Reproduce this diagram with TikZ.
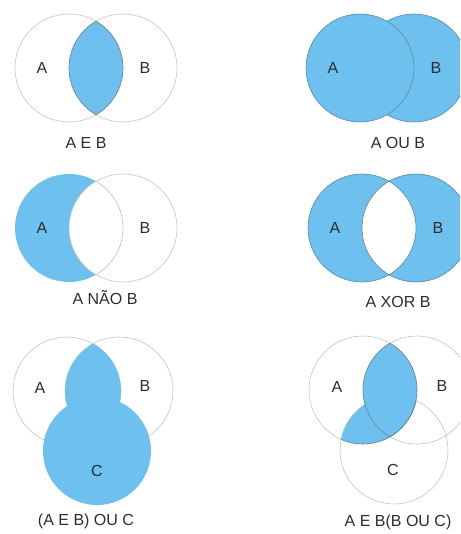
\documentclass[tikz,border=0pt]{standalone}
\usepackage{fontspec}
\setmainfont{Liberation Sans}
\usepackage{xcolor}
\usepackage{tikz}
\definecolor{setblue}{RGB}{110,192,238}
\definecolor{rimgray}{RGB}{195,195,195}
\definecolor{bluerim}{RGB}{95,135,165}
\definecolor{txtgray}{RGB}{45,45,45}

\begin{document}
\begin{tikzpicture}[
    x=1pt, y=-1pt,
    setfill/.style={fill=setblue},
    rim/.style={draw=rimgray, line width=0.6pt},
    darkrim/.style={draw=bluerim, line width=0.6pt},
    lbl/.style={text=txtgray, font=\fontsize{16}{18}\selectfont, inner sep=0pt},
    setcaption/.style={lbl}
]
  \useasboundingbox (0,0) rectangle (460,534);
  \clip (0,0) rectangle (460,534);

  % Define the circle centres
  \coordinate (a1) at (69,68);   \coordinate (b1) at (123,68);
  \coordinate (a2) at (360,68);  \coordinate (b2) at (414,68);
  \coordinate (a3) at (69,228);  \coordinate (b3) at (123,228);
  \coordinate (a4) at (362,228); \coordinate (b4) at (416,228);
  \coordinate (a5) at (67,391);  \coordinate (b5) at (119,391); \coordinate (c5) at (97,451);
  \coordinate (a6) at (363,390); \coordinate (b6) at (417,390); \coordinate (c6) at (394,450);

  % A E B
  \begin{scope}
    \clip (a1) circle[radius=54pt];
    \fill[setfill] (b1) circle[radius=54pt];
  \end{scope}
  \draw[rim] (a1) circle[radius=54pt] (b1) circle[radius=54pt];
  \begin{scope}
    \clip (a1) circle[radius=54pt];
    \draw[darkrim] (b1) circle[radius=54pt];
  \end{scope}
  \begin{scope}
    \clip (b1) circle[radius=54pt];
    \draw[darkrim] (a1) circle[radius=54pt];
  \end{scope}

  % A OU B
  \fill[setfill, darkrim] (b2) circle[radius=54pt];
  \fill[setfill, darkrim] (a2) circle[radius=54pt];

  % A NAO B
  \fill[setfill] (a3) circle[radius=54pt];
  \begin{scope}
    \clip (a3) circle[radius=54pt];
    \fill[white] (b3) circle[radius=54pt];
  \end{scope}
  \draw[rim] (b3) circle[radius=54pt];
  \begin{scope}
    \clip (b3) circle[radius=54pt];
    \draw[rim] (a3) circle[radius=54pt];
  \end{scope}

  % A XOR B
  \fill[setfill] (a4) circle[radius=54pt] (b4) circle[radius=54pt];
  \begin{scope}
    \clip (a4) circle[radius=54pt];
    \fill[white] (b4) circle[radius=54pt];
  \end{scope}
  \draw[darkrim] (a4) circle[radius=54pt] (b4) circle[radius=54pt];

  % (A E B) OU C
  \draw[rim] (a5) circle[radius=54pt] (b5) circle[radius=54pt];
  \begin{scope}
    \clip (a5) circle[radius=54pt];
    \fill[setfill] (b5) circle[radius=54pt];
  \end{scope}
  \fill[setfill] (c5) circle[radius=54pt];

  % A E (B OU C)
  \draw[rim] (a6) circle[radius=54pt] (b6) circle[radius=54pt] (c6) circle[radius=54pt];
  \begin{scope}
    \clip (a6) circle[radius=54pt];
    \fill[setfill] (b6) circle[radius=54pt] (c6) circle[radius=54pt];
    \draw[darkrim] (b6) circle[radius=54pt];
  \end{scope}
  \foreach \k in {b6,c6} {
    \begin{scope}
      \clip (\k) circle[radius=54pt];
      \draw[darkrim] (a6) circle[radius=54pt];
    \end{scope}
  }

  % set letters
  \foreach \n/\p/\t in {la1/{42,68}/A, lb1/{145,68}/B, la2/{333,68}/A, lb2/{436,68}/B,
                        la3/{42,228}/A, lb3/{145,228}/B, la4/{335,228}/A, lb4/{438,228}/B,
                        la5/{40,388}/A, lb5/{145,386}/B, lc5/{97,471}/C,
                        la6/{337,387}/A, lb6/{442,386}/B, lc6/{393,470}/C}
    \node[lbl] (\n) at (\p) {\t};

  % captions
  \node[setcaption] (cap1) at (86,143)  {A E B};
  \node[setcaption] (cap2) at (398,143) {A OU B};
  \node[setcaption] (cap3) at (105,298) {A NÃO B};
  \node[setcaption] (cap4) at (398,302) {A XOR B};
  \node[setcaption] (cap5) at (86,521)  {(A E B) OU C};
  \node[setcaption] (cap6) at (398,522) {A E B(B OU C)};

\end{tikzpicture}
\end{document}
